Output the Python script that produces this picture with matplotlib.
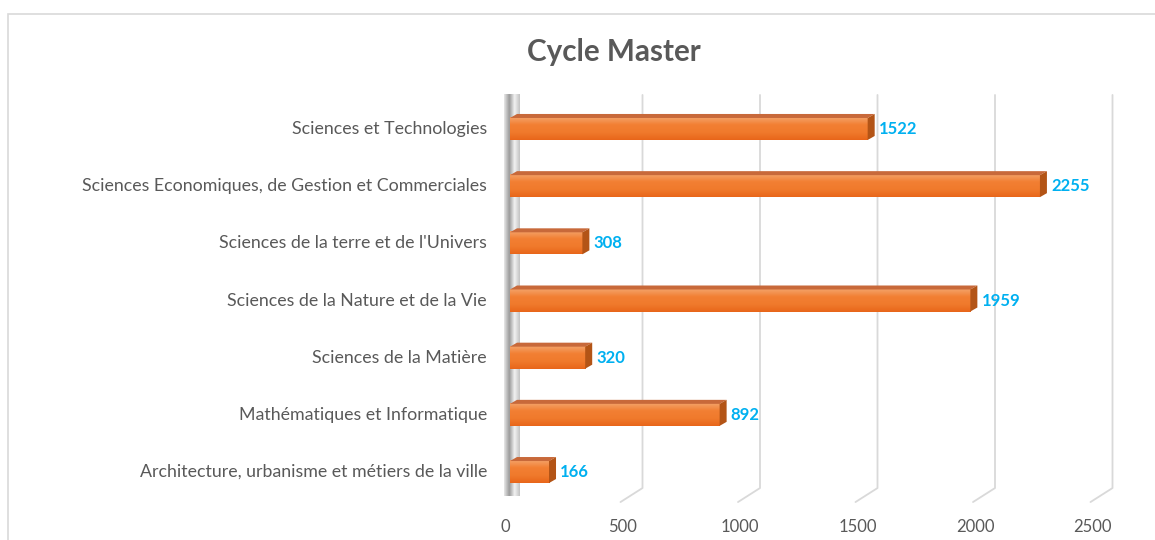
import numpy as np
import matplotlib
matplotlib.use("Agg")
import matplotlib.pyplot as plt
from matplotlib.patches import Polygon

# Donnees
categories = ["Architecture, urbanisme et métiers de la ville",
              "Mathématiques et Informatique",
              "Sciences de la Matière",
              "Sciences de la Nature et de la Vie",
              "Sciences de la terre et de l'Univers",
              "Sciences Economiques, de Gestion et Commerciales",
              "Sciences et Technologies"]
valeurs = [166, 892, 320, 1959, 308, 2255, 1522]
xticks = [0, 500, 1000, 1500, 2000, 2500]
titre = "Cycle Master"

plt.rcParams['font.family'] = ['Lato', 'DejaVu Sans']

W, H = 1155, 540
fig = plt.figure(figsize=(W / 100, H / 100), dpi=100)

# axes: 0 -> px 510, 2500 -> px 1097.5 ; 57.17 px par categorie
x0px, x1px = 510, 510 + 2500 * 0.235
ax = fig.add_axes([x0px / W, 10.8 / H, (x1px - x0px) / W, 457.4 / H])
ax.set_xlim(0, 2500)
ax.set_ylim(-1, 7)
ax.axis("off")

upx = 2500 / (x1px - x0px)   # unites x par pixel
upy = 1 / 57.17              # unites y par pixel

y = np.arange(len(categories))

# grille 3D (plan arriere + sol)
y_top = 6.56 + 2 * upy
y_fb = -0.315 + 2 * upy
y_ff = -0.56 + 2 * upy
for v in xticks[1:]:
    xb = v + 15 * upx
    xf = v - 7 * upx
    ax.plot([xb, xb, xf], [y_top, y_fb, y_ff], color="#d9d9d9", lw=1.3,
            clip_on=False, solid_capstyle="round")

# mur gauche
wall = np.linspace(0, 1, 32).reshape(1, -1)
ax.imshow(wall, cmap=matplotlib.colors.LinearSegmentedColormap.from_list(
    "w", ["#e6e6e6", "#9a9a9a", "#f2f2f2", "#c4c4c4"]),
    extent=(-6 * upx, 10 * upx, y_ff + 0.1, y_top), aspect="auto", zorder=1,
    clip_on=False)

# barres 3D
h = 22 * upy
dx = 7 * upx
dy = 4 * upy
grad = np.linspace(0, 1, 64).reshape(-1, 1)
cmap_bar = matplotlib.colors.LinearSegmentedColormap.from_list(
    "b", ["#e8661a", "#f07a2c", "#f27f33", "#f4a268"])
for yi, v in zip(y, valeurs):
    ax.imshow(grad, cmap=cmap_bar, origin="lower",
              extent=(0, v, yi - h / 2, yi + h / 2), aspect="auto", zorder=3)
    top = Polygon([(0, yi + h / 2), (v, yi + h / 2), (v + dx, yi + h / 2 + dy),
                   (dx, yi + h / 2 + dy)], closed=True, fc="#c8693a", ec="none", zorder=3)
    side = Polygon([(v, yi - h / 2), (v, yi + h / 2), (v + dx, yi + h / 2 + dy),
                    (v + dx, yi - h / 2 + dy)], closed=True, fc="#b35416", ec="none", zorder=3)
    ax.add_patch(top)
    ax.add_patch(side)
    ax.text(v + dx + 4 * upx, yi, str(v), color="#00b0f0", fontsize=12,
            fontweight="bold", va="center", ha="left", zorder=4)

# etiquettes
for yi, c in zip(y, categories):
    ax.text(-23 * upx, yi, c, color="#595959", fontsize=12.8, ha="right", va="center")
for v in xticks:
    ax.text(v - 5 * upx, -1.0 + 2 * upy, str(v), color="#595959", fontsize=12,
            ha="center", va="center", clip_on=False)

ax.set_ylim(-1, 7)
ax.set_xlim(0, 2500)

fig.text(614 / W, 1 - 52 / H, titre, color="#595959", fontsize=21.3,
         fontweight="bold", ha="center", va="center")

# cadre
fig.patches.append(Polygon([(8 / W, 0), (8 / W, 1 - 14 / H), (1.2, 1 - 14 / H)],
                           closed=False, fill=False, ec="#d9d9d9", lw=1.2,
                           transform=fig.transFigure))

fig.savefig("out.png", dpi=100)
